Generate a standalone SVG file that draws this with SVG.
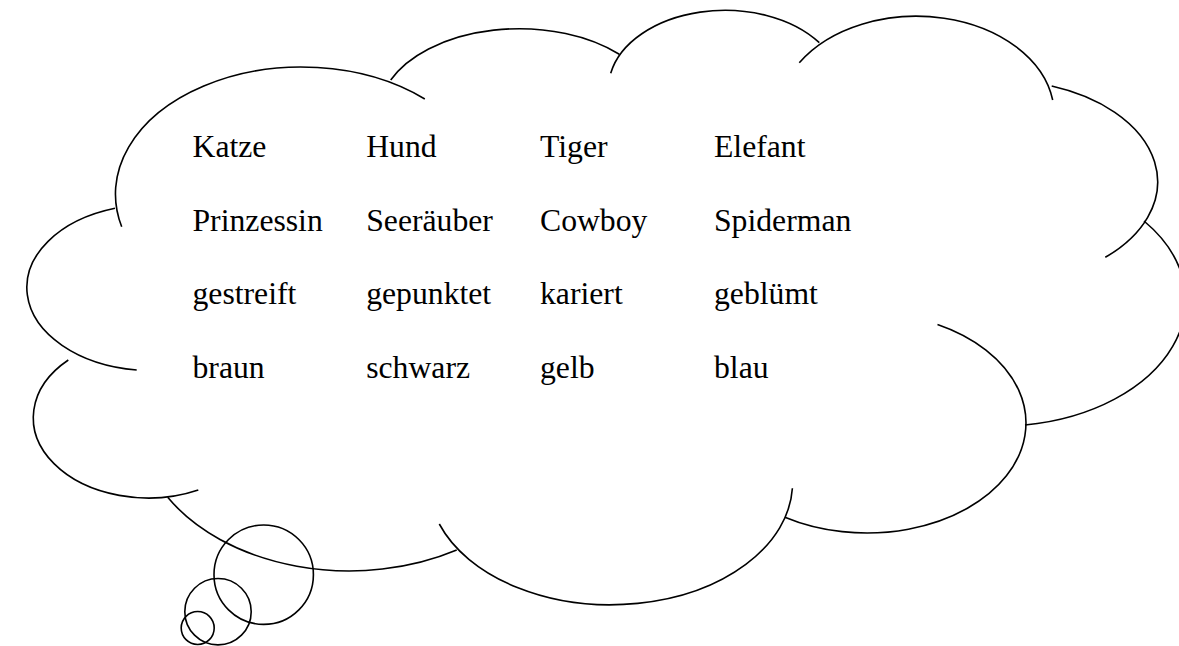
<svg xmlns="http://www.w3.org/2000/svg" width="1179" height="646" viewBox="0 0 1179 646">
  <style>
    .arc { fill: none; stroke: #000; stroke-width: 1.6; stroke-linecap: butt; }
    .bubble { fill: none; stroke: #000; stroke-width: 1.6; }
    .word { font-family: "Liberation Serif", "Times New Roman", serif; font-size: 31.7px; fill: #000; }
  </style>
  <rect width="1179" height="646" fill="#fff"/>
  <g id="cloud">
    <path class="arc" d="M121.7,226.7 A186,127 0 0 1 424.8,99"/>
    <path class="arc" d="M390.7,80 A140,85 0 0 1 619.3,54.3"/>
    <path class="arc" d="M610.7,73.3 A116.5,78.3 0 0 1 819.3,42.7"/>
    <path class="arc" d="M799.3,62.7 A138,99 0 0 1 1052.7,100"/>
    <path class="arc" d="M1051.7,86 A158,101.5 0 0 1 1105.3,257.3"/>
    <path class="arc" d="M1144,221 A187,126 0 0 1 1025,425"/>
    <path class="arc" d="M937.5,324.4 A159,110 0 1 1 784.9,517.2"/>
    <path class="arc" d="M792.4,488.3 A182,122 0 0 1 439.3,524"/>
    <path class="arc" d="M167.7,497.3 A211,150 0 0 0 456.7,550"/>
    <path class="arc" d="M68.3,360 A115,80.3 0 0 0 198.3,490"/>
    <path class="arc" d="M115,208.3 A125,83 0 0 0 136.7,370"/>
  </g>
  <g id="thought-bubbles">
    <circle class="bubble" cx="263.7" cy="574.7" r="49.7"/>
    <circle class="bubble" cx="218" cy="611.7" r="33.2"/>
    <circle class="bubble" cx="197.7" cy="628" r="16.5"/>
  </g>
  <g id="words" class="word">
    <text x="192.5" y="157">Katze</text>
    <text x="366.2" y="157">Hund</text>
    <text x="540" y="157">Tiger</text>
    <text x="714" y="157">Elefant</text>
    <text x="192.5" y="230.5">Prinzessin</text>
    <text x="366.2" y="230.5">Seeräuber</text>
    <text x="540" y="230.5">Cowboy</text>
    <text x="714" y="230.5">Spiderman</text>
    <text x="192.5" y="304">gestreift</text>
    <text x="366.2" y="304">gepunktet</text>
    <text x="540" y="304">kariert</text>
    <text x="714" y="304">geblümt</text>
    <text x="192.5" y="378">braun</text>
    <text x="366.2" y="378">schwarz</text>
    <text x="540" y="378">gelb</text>
    <text x="714" y="378">blau</text>
  </g>
</svg>
